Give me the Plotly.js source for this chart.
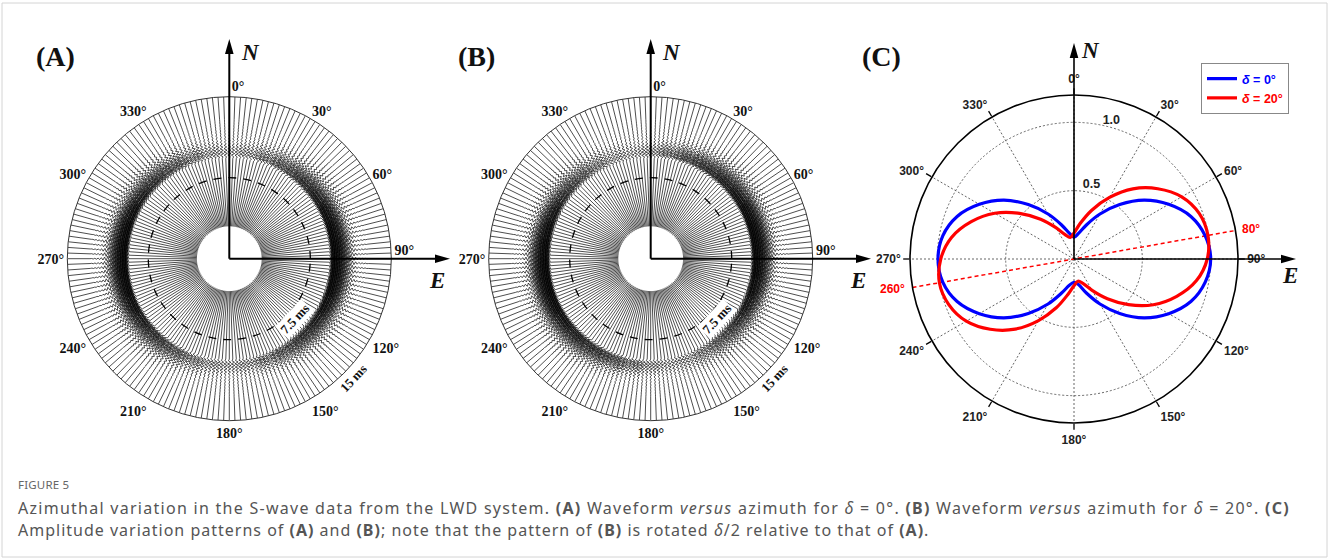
<!DOCTYPE html>
<html>
<head>
<meta charset="utf-8">
<script src="https://cdn.plot.ly/plotly-3.0.1.min.js"></script>
<style>
  html, body { margin: 0; padding: 0; background: #fff; }
  #wrap { position: relative; width: 1330px; height: 560px; }
  #fig { width: 1330px; height: 560px; }
  .cap { position: absolute; left: 18px; white-space: nowrap; color: #555;
         font-family: 'Noto Sans', 'Open Sans', sans-serif; }
  .cap b { font-weight: 700; }
  #capHead { top: 477px; font-size: 11.5px; letter-spacing: 0.2px; color: #666; }
  #capLine1 { top: 497px; font-size: 16px; letter-spacing: 1.27px; }
  #capLine2 { top: 519px; font-size: 16px; letter-spacing: 1.0px; }
</style>
</head>
<body>
<div id="wrap">
  <div id="fig"></div>
  <div class="cap" id="capHead">FIGURE 5</div>
  <div class="cap" id="capLine1">Azimuthal variation in the S-wave data from the LWD system. <b>(A)</b> Waveform <i>versus</i> azimuth for <i>δ</i> = 0°. <b>(B)</b> Waveform <i>versus</i> azimuth for <i>δ</i> = 20°. <b>(C)</b></div>
  <div class="cap" id="capLine2">Amplitude variation patterns of <b>(A)</b> and <b>(B)</b>; note that the pattern of <b>(B)</b> is rotated <i>δ</i>/2 relative to that of <b>(A)</b>.</div>
</div>
<script>
// Compass ticks shared by the three rose plots
const compassTicks = [0, 30, 60, 90, 120, 150, 180, 210, 240, 270, 300, 330];
const compassLabelsWave = ['\u00a0\u00a0\u00a0\u00a0\u00a00°', '30°', '60°', '90°<br>\u00a0', '120°', '150°', '180°', '210°', '240°', '270°', '300°', '330°'];
const compassLabelsAmp = ['0°', '30°', '60°', '90°', '120°', '150°', '180°', '210°', '240°', '270°', '300°', '330°'];

// S-wave amplitude against azimuth, every 10°
const patternAzimuth = [0, 10, 20, 30, 40, 50, 60, 70, 80, 90, 100, 110, 120, 130, 140, 150, 160, 170,
                        180, 190, 200, 210, 220, 230, 240, 250, 260, 270, 280, 290, 300, 310, 320, 330, 340, 350];
const ampDelta0 = [0.16, 0.19, 0.265, 0.38, 0.52, 0.67, 0.80, 0.91, 0.975, 1.00, 0.975, 0.91, 0.80, 0.67, 0.52, 0.38, 0.265, 0.19,
                   0.17, 0.195, 0.265, 0.38, 0.52, 0.67, 0.80, 0.91, 0.975, 0.995, 0.975, 0.91, 0.80, 0.67, 0.52, 0.38, 0.265, 0.19];
const ampDelta20 = [0.19, 0.265, 0.38, 0.52, 0.67, 0.80, 0.91, 0.975, 0.995, 0.975, 0.91, 0.80, 0.67, 0.52, 0.38, 0.265, 0.19, 0.165,
                    0.195, 0.265, 0.38, 0.52, 0.67, 0.80, 0.91, 0.975, 1.00, 0.975, 0.91, 0.80, 0.67, 0.52, 0.38, 0.265, 0.19, 0.16];
const seriesColors = ['#0000ff', '#ff0000'];

// Radial tick labels of the amplitude rose
const ampTicks = [0.5, 1.0];
const ampTickLabels = ['0.5', '1.0'];

// Fast-shear polarisation direction for δ = 20°
const rotatedAxis = [260, 80];
const rotatedAxisLabels = ['260°', '80°'];

// Recorded S-wave arrival: sample times (ms) and normalised amplitude
const waveTime = [9.30, 9.45, 9.60, 9.75, 9.90, 10.05, 10.20, 10.35, 10.50, 10.65, 10.80, 10.95, 11.10,
                  11.25, 11.40, 11.55, 11.70, 11.85, 12.00, 12.15, 12.30, 12.45, 12.60, 12.75, 12.90];
const waveValue = [0, 0.50, -0.90, 1.00, -1.00, 0.95, -0.88, 0.80, -0.70, 0.60, -0.50, 0.40, -0.32,
                   0.25, -0.20, 0.16, -0.13, 0.10, -0.08, 0.06, -0.05, 0.04, -0.03, 0.02, 0];
const timeTicks = [7.5, 15];
const timeTickLabels = ['7.5 ms', '15 ms'];

// Receivers every 2° around the tool, traces shown from 3 ms to 15 ms
const traceAzimuth = [];
for (let a = 0; a < 360; a += 2) traceAzimuth.push(a);
const traceStart = 3, traceEnd = 15;
const waveScale = 0.95;   // sideways deflection (ms) for unit amplitude

function waveformTrace(amp, subplot) {
  const r = [], th = [];
  traceAzimuth.forEach(az => {
    const a = amp[Math.round(az / 10) % patternAzimuth.length] * waveScale;
    r.push(traceStart); th.push(az);
    waveTime.forEach((t, i) => {
      r.push(t);
      th.push(az + (a * waveValue[i] / t) * 180 / Math.PI);
    });
    r.push(traceEnd); th.push(az);
    r.push(null); th.push(null);
  });
  return {
    type: 'scatterpolar', subplot, r, theta: th, mode: 'lines',
    line: { color: '#000', width: 0.7 }, connectgaps: false,
    hoverinfo: 'skip', showlegend: false
  };
}

const closeLoop = arr => arr.concat([arr[0]]);
const sans = 'Liberation Sans, Arial, sans-serif';
const serif = 'Liberation Serif, Times New Roman, serif';

const traces = [
  waveformTrace(ampDelta0, 'polar'),
  waveformTrace(ampDelta20, 'polar2'),
  {
    type: 'scatterpolar', subplot: 'polar3', mode: 'lines',
    r: [1.2, 0, 1.2], theta: [rotatedAxis[0], rotatedAxis[0], rotatedAxis[1]],
    line: { color: '#ff0000', width: 1.5, dash: '4px,3px' },
    showlegend: false, hoverinfo: 'skip', cliponaxis: false
  },
  {
    type: 'scatterpolar', subplot: 'polar3', mode: 'text',
    r: [ampTicks[0] * 1.115, ampTicks[1] * 1.05], theta: [13.3, 15.1],
    text: ampTickLabels,
    textfont: { family: sans, size: 12.5, color: '#222', weight: 'bold' },
    showlegend: false, hoverinfo: 'skip', cliponaxis: false
  },
  {
    type: 'scatterpolar', subplot: 'polar3', mode: 'lines', name: '<span style="color:#0000ff"><i>δ</i> = 0°</span>',
    r: closeLoop(ampDelta0), theta: closeLoop(patternAzimuth),
    line: { color: seriesColors[0], width: 3.2, shape: 'spline', smoothing: 1 }, hoverinfo: 'skip'
  },
  {
    type: 'scatterpolar', subplot: 'polar3', mode: 'lines', name: '<span style="color:#ff0000"><i>δ</i> = 20°</span>',
    r: closeLoop(ampDelta20), theta: closeLoop(patternAzimuth),
    line: { color: seriesColors[1], width: 3.2, shape: 'spline', smoothing: 1 }, hoverinfo: 'skip'
  }
];

const W = 1330, H = 560;
const px = x => x / W;
const py = y => 1 - y / H;

function squareDomain(cx, cy, rad) {
  return { x: [px(cx - rad), px(cx + rad)], y: [py(cy + rad), py(cy - rad)] };
}

function wavePolar(cx, cy) {
  return {
    domain: squareDomain(cx, cy, 162),
    bgcolor: 'rgba(0,0,0,0)',
    angularaxis: {
      rotation: 90, direction: 'clockwise',
      tickmode: 'array', tickvals: compassTicks, ticktext: compassLabelsWave,
      showgrid: false, showline: true, linecolor: '#333', linewidth: 1,
      ticks: '', tickfont: { family: serif, size: 14, color: '#111', weight: 'bold' }
    },
    radialaxis: {
      range: [0, 15], tickmode: 'array', tickvals: [timeTicks[0]], showticklabels: false,
      showline: false, ticks: '', showgrid: true, gridcolor: '#000', gridwidth: 1.3, griddash: '8px,7px'
    }
  };
}

// Axis arrows: shaft plus filled head at (x1, y1), pixel coordinates
function axisArrow(x0, y0, x1, y1, width) {
  const len = Math.hypot(x1 - x0, y1 - y0);
  const ux = (x1 - x0) / len, uy = (y1 - y0) / len;
  const hl = 15, hw = 4.3;
  const bx = x1 - ux * hl, by = y1 - uy * hl;
  const p1 = [bx - uy * hw, by + ux * hw], p2 = [bx + uy * hw, by - ux * hw];
  return [
    { type: 'line', xref: 'paper', yref: 'paper', layer: 'above',
      x0: px(x0), y0: py(y0), x1: px(bx + ux * 2), y1: py(by + uy * 2),
      line: { color: '#000', width } },
    { type: 'path', xref: 'paper', yref: 'paper', layer: 'above',
      path: `M ${px(x1)} ${py(y1)} L ${px(p1[0])} ${py(p1[1])} L ${px(p2[0])} ${py(p2[1])} Z`,
      fillcolor: '#000', line: { width: 0 } }
  ];
}

function label(text, x, y, font, extra) {
  return Object.assign({
    text, xref: 'paper', yref: 'paper', x: px(x), y: py(y),
    xanchor: 'center', yanchor: 'middle', showarrow: false, font
  }, extra || {});
}

const panelFont = { family: serif, size: 28, color: '#111', weight: 'bold' };
const compassFont = { family: serif, size: 23, color: '#111', weight: 'bold', style: 'italic' };
const timeFont = { family: serif, size: 13, color: '#111', weight: 'bold' };
const redFont = { family: sans, size: 12, color: '#ff0000', weight: 'bold' };

const centers = { A: [229.3, 258.7], B: [650.7, 258.7], C: [1074, 259] };

// Label for the δ = 20° axis, placed just beyond the rim of rose C
function rimLabel(text, theta, dist) {
  const t = theta * Math.PI / 180;
  return label(text, centers.C[0] + dist * Math.sin(t), centers.C[1] - dist * Math.cos(t), redFont);
}

const shapes = [
  { type: 'rect', xref: 'paper', yref: 'paper', x0: px(2), x1: px(1327), y0: py(3), y1: py(557),
    line: { color: '#d4d4d4', width: 1 }, layer: 'below' },
  ...axisArrow(centers.A[0], centers.A[1], centers.A[0], 39, 2),
  ...axisArrow(centers.A[0], centers.A[1], 450, centers.A[1], 2),
  ...axisArrow(centers.B[0], centers.B[1], centers.B[0], 39, 2),
  ...axisArrow(centers.B[0], centers.B[1], 871, centers.B[1], 2),
  ...axisArrow(centers.C[0], centers.C[1], centers.C[0], 43, 1.6),
  ...axisArrow(centers.C[0], centers.C[1], 1296, centers.C[1], 1.6)
];

const annotations = [
  label('(A)', 55, 57, panelFont),
  label('(B)', 476, 57, panelFont),
  label('(C)', 881, 57, panelFont),
  label('N', 250, 52, compassFont),
  label('N', 671, 52, compassFont),
  label('N', 1090, 50, compassFont),
  label('E', 437, 280, compassFont),
  label('E', 858, 280, compassFont),
  label('E', 1290, 275, compassFont),
  label(timeTickLabels[0], 294, 319, timeFont, { textangle: -47, bgcolor: '#fff', borderpad: 1 }),
  label(timeTickLabels[1], 353, 378, timeFont, { textangle: -47 }),
  label(timeTickLabels[0], 716, 319, timeFont, { textangle: -47, bgcolor: '#fff', borderpad: 1 }),
  label(timeTickLabels[1], 774, 378, timeFont, { textangle: -47 }),
  rimLabel(rotatedAxisLabels[0], rotatedAxis[0] + 0.6, 184),
  rimLabel(rotatedAxisLabels[1], rotatedAxis[1] + 0.5, 179)
];

const gridStyle = { showgrid: true, gridcolor: '#555', gridwidth: 0.9, griddash: '2px,2px' };

const layout = {
  width: W, height: H,
  margin: { l: 0, r: 0, t: 0, b: 0 },
  paper_bgcolor: '#fff',
  showlegend: true,
  legend: {
    x: px(1201), y: py(63), xanchor: 'left', yanchor: 'top',
    bgcolor: '#fff', bordercolor: '#888', borderwidth: 1,
    font: { family: sans, size: 12.5, weight: 'bold' },
    itemwidth: 30, tracegroupgap: 0
  },
  polar: wavePolar(centers.A[0], centers.A[1]),
  polar2: wavePolar(centers.B[0], centers.B[1]),
  polar3: {
    domain: squareDomain(centers.C[0], centers.C[1], 164),
    bgcolor: 'rgba(0,0,0,0)',
    angularaxis: Object.assign({
      rotation: 90, direction: 'clockwise',
      tickmode: 'array', tickvals: compassTicks, ticktext: compassLabelsAmp,
      showline: true, linecolor: '#000', linewidth: 1.6,
      ticks: 'outside', ticklen: 6, tickcolor: '#000', tickwidth: 1.3,
      tickfont: { family: sans, size: 12, color: '#222', weight: 'bold' }
    }, gridStyle),
    radialaxis: Object.assign({
      range: [0, 1.2], tickmode: 'array', tickvals: ampTicks, showticklabels: false,
      showline: false, ticks: ''
    }, gridStyle)
  },
  shapes,
  annotations
};

Plotly.newPlot('fig', traces, layout, { staticPlot: true, displayModeBar: false });
</script>
</body>
</html>
